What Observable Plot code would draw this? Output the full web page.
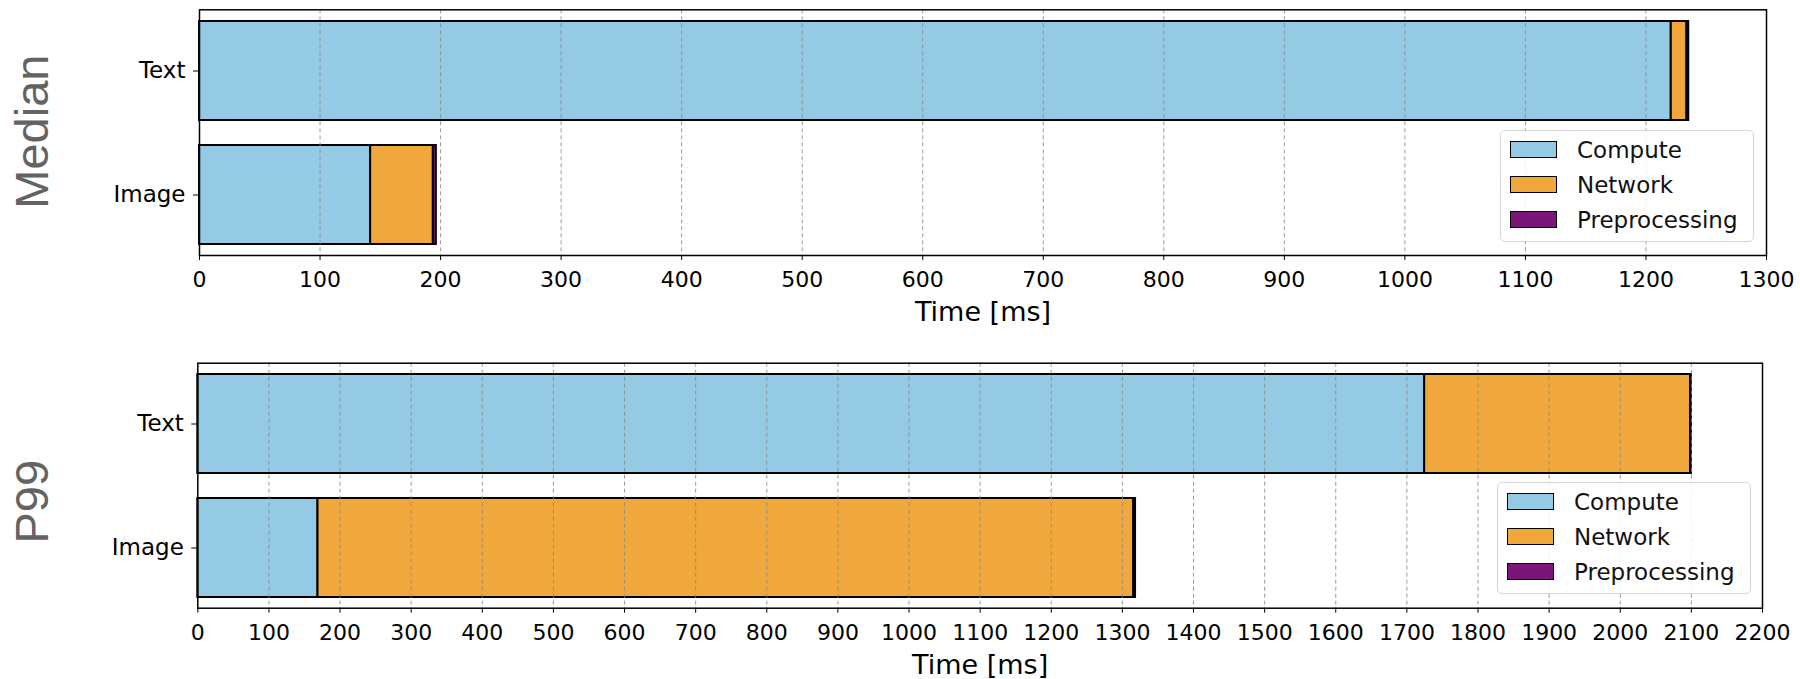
<!DOCTYPE html>
<html>
<head>
<meta charset="utf-8">
<script src="https://cdn.jsdelivr.net/npm/d3@7"></script>
<script src="https://cdn.jsdelivr.net/npm/@observablehq/plot@0.6"></script>
<style>
  html, body { margin: 0; padding: 0; background: white; }
  body { width: 1800px; height: 679px; overflow: hidden; font-family: "DejaVu Sans", sans-serif; }
  .panel { position: relative; width: 1800px; }
  .panel svg { display: block; }
  .legend {
    position: absolute; width: 252px; height: 110px;
    border: 1px solid #d6d6d6; border-radius: 5px;
    background: rgba(255,255,255,0.85);
  }
  .legend .row { position: absolute; left: 0; height: 35px; display: flex; align-items: center; }
  .legend .sw { position: absolute; left: 9px; width: 45px; height: 15px; border: 1.6px solid black; }
  .legend .lab { position: absolute; left: 76px; font-family: "DejaVu Sans", sans-serif; font-size: 23px; color: #111; white-space: nowrap; }
</style>
</head>
<body>
<div id="top" class="panel"></div>
<div id="bottom" class="panel"></div>
<script>
// ---- data ----
const categories = ["Text", "Image"];
const components = ["Compute", "Network", "Preprocessing"];
const componentColors = ["#94cae4", "#f0a83c", "#7a167a"];

const medianCompute = [1221, 142];
const medianNetwork = [13, 52];
const medianPreprocessing = [1.5, 2.5];

const p99Compute = [1725, 169];
const p99Network = [374, 1147];
const p99Preprocessing = [1, 2.5];

const medianTicks = [0, 100, 200, 300, 400, 500, 600, 700, 800, 900, 1000, 1100, 1200, 1300];
const p99Ticks = [0, 100, 200, 300, 400, 500, 600, 700, 800, 900, 1000, 1100, 1200, 1300, 1400, 1500, 1600, 1700, 1800, 1900, 2000, 2100, 2200];

const panelLabels = ["Median", "P99"];
const xLabel = "Time [ms]";

function rows(compute, network, pre) {
  const out = [];
  categories.forEach((c, i) => {
    out.push({category: c, component: components[0], value: compute[i]});
    out.push({category: c, component: components[1], value: network[i]});
    out.push({category: c, component: components[2], value: pre[i]});
  });
  return out;
}

const hasAxisMarks = typeof Plot.axisX === "function";

function panel(cfg) {
  const data = rows(cfg.compute, cfg.network, cfg.pre);
  const axes = hasAxisMarks ? [
    Plot.axisX({ticks: cfg.ticks, tickFormat: d => String(d), tickSize: 5, tickPadding: 11, fontSize: 22, label: null}),
    Plot.axisY({tickSize: 6, tickPadding: 8, fontSize: 23, label: null})
  ] : [];
  const plot = Plot.plot({
    width: 1800,
    height: cfg.height,
    marginLeft: cfg.marginLeft,
    marginRight: cfg.marginRight,
    marginTop: cfg.marginTop,
    marginBottom: cfg.marginBottom,
    style: {fontFamily: "DejaVu Sans", fontSize: "22px", color: "black", background: "white"},
    x: {domain: [cfg.ticks[0], cfg.ticks[cfg.ticks.length - 1]], ticks: cfg.ticks, tickFormat: d => String(d), tickSize: 5, tickPadding: 11, label: null},
    y: {domain: categories, paddingInner: 0.2, paddingOuter: 0, insetTop: cfg.insetTop, insetBottom: cfg.insetBottom, tickSize: 6, tickPadding: 8, label: null},
    color: {domain: components, range: componentColors},
    marks: [
      Plot.barX(data, {x: "value", y: "category", fill: "component", stroke: "black", strokeWidth: 2}),
      Plot.ruleX(cfg.ticks.slice(1, -1), {stroke: "#8a8a8a", strokeWidth: 1, strokeDasharray: "4,3", strokeOpacity: 0.85}),
      Plot.frame({stroke: "black", strokeWidth: 1.5}),
      ...axes,
      Plot.text([cfg.label], {frameAnchor: "left", text: d => d, rotate: -90, dx: -(cfg.marginLeft - 32), dy: cfg.labelDy,
        fontSize: 47, fontFamily: "Liberation Sans", fill: "#636363", textAnchor: "middle", lineAnchor: "middle"}),
      Plot.text([xLabel], {frameAnchor: "bottom", text: d => d, dy: cfg.xLabelDy, fontSize: 27, fontFamily: "DejaVu Sans", fill: "black", textAnchor: "middle", lineAnchor: "middle"})
    ]
  });
  const host = document.getElementById(cfg.id);
  host.style.height = cfg.height + "px";
  host.appendChild(plot);

  const lg = document.createElement("div");
  lg.className = "legend";
  lg.style.left = cfg.legendLeft + "px";
  lg.style.top = cfg.legendTop + "px";
  components.forEach((c, i) => {
    const row = document.createElement("div");
    row.className = "row";
    row.style.top = (1 + i * 35.2) + "px";
    const sw = document.createElement("div");
    sw.className = "sw";
    sw.style.background = componentColors[i];
    const lab = document.createElement("div");
    lab.className = "lab";
    lab.textContent = c;
    row.appendChild(sw);
    row.appendChild(lab);
    lg.appendChild(row);
  });
  host.appendChild(lg);
}

panel({
  id: "top", label: panelLabels[0], height: 340,
  marginLeft: 199, marginRight: 34, marginTop: 9.3, marginBottom: 85,
  insetTop: 11.4, insetBottom: 10.7,
  compute: medianCompute, network: medianNetwork, pre: medianPreprocessing,
  ticks: medianTicks, labelDy: -1, xLabelDy: 57,
  legendLeft: 1500, legendTop: 130
});
panel({
  id: "bottom", label: panelLabels[1], height: 339,
  marginLeft: 197.3, marginRight: 38, marginTop: 22.7, marginBottom: 71.3,
  insetTop: 10.6, insetBottom: 10.4,
  compute: p99Compute, network: p99Network, pre: p99Preprocessing,
  ticks: p99Ticks, labelDy: 16, xLabelDy: 57.5,
  legendLeft: 1497, legendTop: 142
});
</script>
</body>
</html>
